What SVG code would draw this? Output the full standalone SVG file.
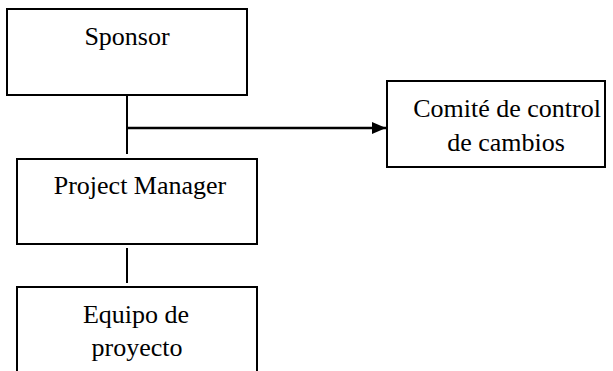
<svg xmlns="http://www.w3.org/2000/svg" width="613" height="371" viewBox="0 0 613 371">
<style>
.box{fill:#fff;stroke:#000;stroke-width:2}
.t{font-family:"Liberation Serif","Times New Roman",serif;font-size:26px;fill:#000;text-anchor:middle}
.ln{stroke:#000;stroke-width:2;fill:none}
.ah{stroke-width:2.5}
</style>
<defs>
<marker id="arr" markerWidth="14" markerHeight="12" refX="14" refY="6" orient="auto" markerUnits="userSpaceOnUse">
<path d="M0,0 L14,6 L0,12 Z" fill="#000"/>
</marker>
</defs>
<rect width="613" height="371" fill="#fff"/>
<g id="connectors">
<line class="ln" x1="127" y1="95" x2="127" y2="154"/>
<line class="ln ah" x1="128" y1="128" x2="386" y2="128" marker-end="url(#arr)"/>
<line class="ln" x1="127" y1="248" x2="127" y2="283"/>
</g>
<g id="sponsor">
<rect class="box" x="7" y="9" width="240" height="86"/>
<text class="t" x="127" y="45">Sponsor</text>
</g>
<g id="comite">
<rect class="box" x="387" y="81" width="218" height="86"/>
<text class="t" x="507" y="117">Comité de control</text>
<text class="t" x="506" y="151">de cambios</text>
</g>
<g id="pm">
<rect class="box" x="17" y="159" width="240" height="85"/>
<text class="t" x="140" y="194">Project Manager</text>
</g>
<g id="equipo">
<rect class="box" x="17" y="287" width="240" height="100"/>
<text class="t" x="136" y="323">Equipo de</text>
<text class="t" x="137" y="356">proyecto</text>
</g>
</svg>
